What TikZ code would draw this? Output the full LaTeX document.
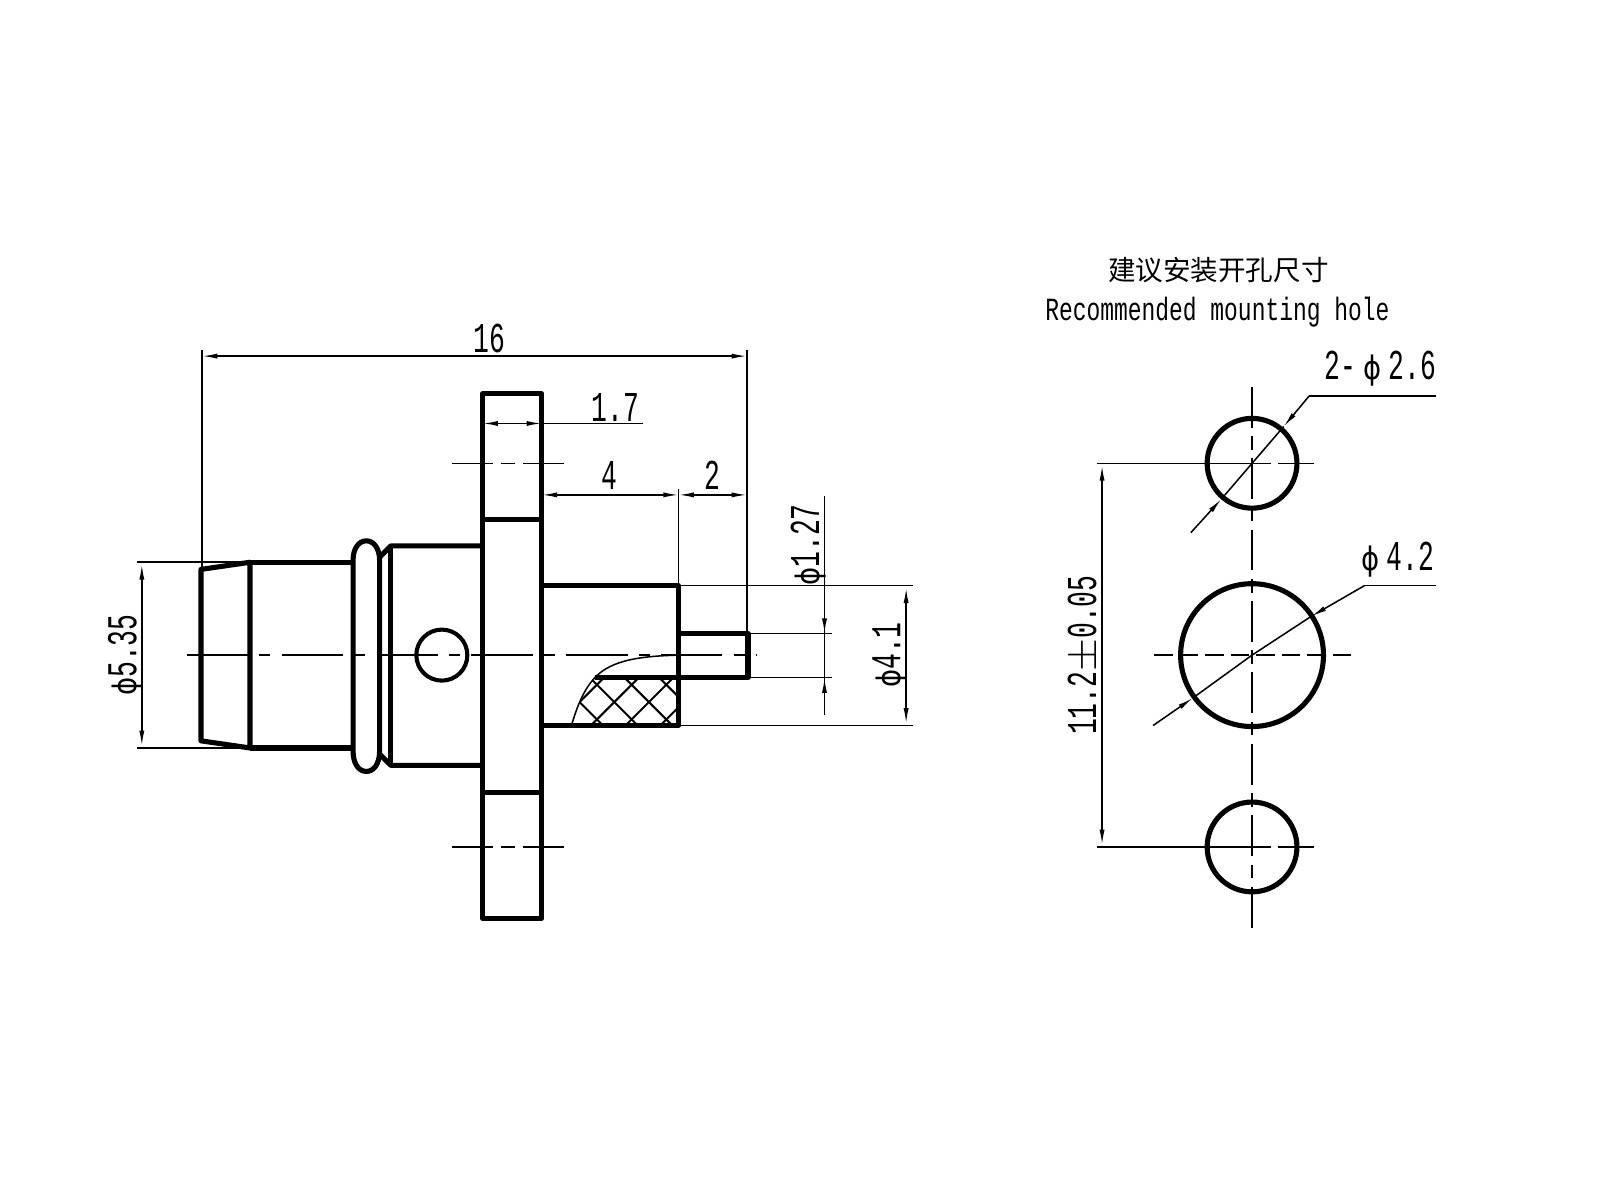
\documentclass[tikz,border=0pt]{standalone}
\usepackage{fontspec}
\setmainfont[FakeStretch=0.71]{Liberation Mono}
\newfontfamily\numfont[FakeStretch=0.62]{Liberation Mono}
\newfontfamily\phifont[FakeStretch=0.85]{DejaVu Sans}
\newfontfamily\cjkfont{Noto Sans CJK SC}
\newcommand{\dia}{{\phifont\fontsize{19}{19}\selectfont ϕ}}
\usetikzlibrary{arrows,arrows.meta,calc,positioning,shapes}

\begin{document}
\begin{tikzpicture}[x=0.6pt,y=-0.6pt,
    body/.style={line width=3pt,line join=round},
    fine/.style={line width=0.9pt},
    dim/.style={fine,{Latex[length=9pt,width=3pt]}-{Latex[length=9pt,width=3pt]}},
    tip/.style={fine,-{Latex[length=9pt,width=3pt]}},
    axis/.style={fine,dash pattern=on 36pt off 6.6pt on 6.6pt off 6.6pt},
    hole/.style={fine,dash pattern=on 24pt off 5pt on 8pt off 5pt},
    cross/.style={fine,dash pattern=on 11pt off 4pt},
    num/.style={font=\numfont\fontsize{25}{25}\selectfont,inner sep=0pt},
    title/.style={font=\fontsize{19}{19}\selectfont,inner sep=0pt}]
\useasboundingbox (0,-1) rectangle (1568,1175);
\fill[white] (0,-1) rectangle (1568,1175);

\begin{scope}
    \clip (583,663) -- (665,663) -- (665,710) -- (560,710) .. controls (566,690) and (572,675) .. (583,663) -- cycle;
    \foreach \s in {-68,-34,...,102} {
        \draw[line width=1.2pt] (578+\s,663) -- ++(60,60);
        \draw[line width=1.2pt] (626+\s,663) -- ++(-60,60);
    }
\end{scope}
\draw[fine] (583,663) .. controls (600,645) and (630,642) .. (665,641);
\draw[fine] (583,663) .. controls (572,675) and (566,690) .. (560,710);

\draw[body] (473,385) rectangle (531,899);
\draw[body] (473,508) -- (531,508);
\draw[body] (473,776) -- (531,776);
\draw[body] (197,557) -- (245,550) -- (245,732) -- (197,725) -- cycle;
\draw[body] (245,550) -- (346,550);
\draw[body] (245,732) -- (346,732);
\draw[body] (346,548) .. controls (346,536) and (352,529) .. (359,529) .. controls (366,529) and (372,536) .. (372,548)
    -- (372,735) .. controls (372,748) and (366,755) .. (359,755) .. controls (352,755) and (346,748) .. (346,735) -- cycle;
\draw[body] (372,545) -- (383,534) -- (473,534);
\draw[body] (372,738) -- (383,749) -- (473,749);
\draw[body] (383,534) -- (383,749);
\draw[line width=2.4pt] (433,641) circle (25);
\draw[body] (531,573) -- (665,573) -- (665,710) -- (531,710);
\draw[body] (665,620) -- (733,620) -- (733,663) -- (583,663);

\draw[axis] (183,641) -- (742,641);
\foreach \y in {453,829} \draw[hole] (443,\y) -- (553,\y);

\draw[fine] (198,342) -- (198,557);
\draw[fine] (732,342) -- (732,620);
\draw[dim] (198,348) -- (732,348);
\node[num] (L16) at (480,331) {16};
\draw[fine] (134,550) -- (245,550);
\draw[fine] (134,732) -- (245,732);
\draw[dim] (139,552) -- (139,730);
\node[num,rotate=90] (D535) at (123,641) {\dia5.35};
\draw[fine] (665,478) -- (665,573);
\draw[dim] (531,484) -- (665,484);
\draw[dim] (665,484) -- (732,484);
\node[num] (L4) at (597,465) {4};
\node[num] (L2) at (698,465) {2};
\draw[dim] (473,414) -- (531,414);
\draw[fine] (531,414) -- (630,414);
\node[num] (L17) at (603,398) {1.7};
\draw[fine] (665,573) -- (895,573);
\draw[fine] (665,710) -- (895,710);
\draw[fine] (733,620) -- (815,620);
\draw[fine] (733,663) -- (815,663);
\draw[fine] (808,485) -- (808,700);
\draw[tip] (808,590) -- (808,620);
\draw[tip] (808,693) -- (808,663);
\node[num,rotate=90] (D127) at (792,533) {\dia1.27};
\draw[dim] (888,575) -- (888,708);
\node[num,rotate=90] (D41) at (872,641) {\dia4.1};

\node[title,font=\cjkfont\fontsize{16.2}{16}\selectfont] (T1) at (1194,264) {建议安装开孔尺寸};
\node[title] (T2) at (1193,305) {Recommended mounting hole};

\foreach \y/\r in {453/44,641/70,829/44} \draw[body] (1227,\y) circle (\r);
\draw[hole] (1227,378) -- (1227,908);
\draw[fine] (1075,453) -- (1227,453);
\draw[cross] (1227,453) -- (1272,453);
\draw[fine] (1272,453) -- (1288,453);
\draw[fine] (1075,829) -- (1227,829);
\draw[cross] (1227,829) -- (1272,829);
\draw[fine] (1272,829) -- (1288,829);
\draw[cross] (1131,641) -- (1325,641);

\draw[dim] (1080,455) -- (1080,827);
\node[num,rotate=90] (D112) at (1062,641) {11.2$\pm$0.05};

\draw[fine] (1407,387) -- (1283,387);
\draw[tip] (1283,387) -- (1258,417);
\draw[fine] (1258,417) -- (1197,488);
\draw[tip] (1167,521) -- (1197,488);
\node[num] (D26) at (1353,360) {2-\,\dia\,2.6};

\draw[fine] (1407,573) -- (1337,573);
\draw[tip] (1337,573) -- (1285,603);
\draw[fine] (1285,603) -- (1227,641) -- (1169,683);
\draw[tip] (1130,710) -- (1169,683);
\node[num] (D42) at (1370,547) {\dia\,4.2};
\end{tikzpicture}
\end{document}
